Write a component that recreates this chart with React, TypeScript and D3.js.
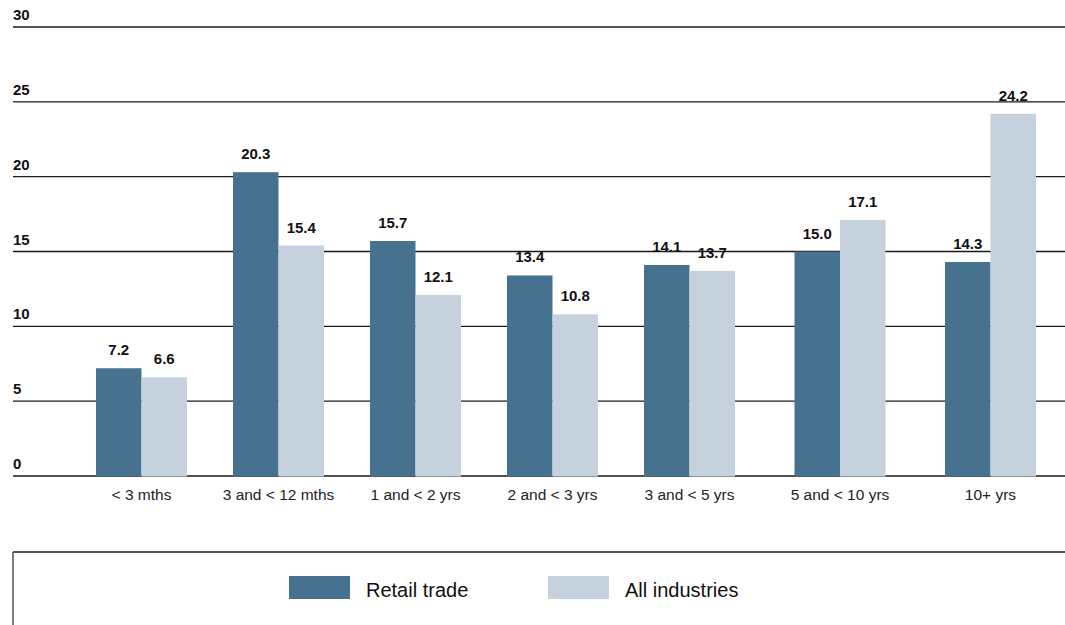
import React from "react";
import * as d3 from "d3";

// Duration categories and the share (%) in each, by series
const categories = [
  "< 3 mths",
  "3 and < 12 mths",
  "1 and < 2 yrs",
  "2 and < 3 yrs",
  "3 and < 5 yrs",
  "5 and < 10 yrs",
  "10+ yrs",
];
const seriesNames = ["Retail trade", "All industries"];
const retailTrade = [7.2, 20.3, 15.7, 13.4, 14.1, 15.0, 14.3];
const allIndustries = [6.6, 15.4, 12.1, 10.8, 13.7, 17.1, 24.2];
const yTicks = [0, 5, 10, 15, 20, 25, 30];

const COLORS = ["#47728f", "#c5d1dc"];
const FONT = "'Liberation Sans', Arial, Helvetica, sans-serif";

const W = 1065;
const H = 625;

export default function App() {
  const left = 13;
  const right = W;

  const y = d3.scaleLinear().domain([0, 30]).range([476, 27]);

  // Group placement: the last two groups sit a little wider apart
  const groupX = d3.scaleLinear().domain([0, 4, 6]).range([96, 644, 945]);
  const groupWidth = 91;
  const inner = d3.scaleBand<string>().domain(seriesNames).range([0, groupWidth]).padding(0);

  const values = [retailTrade, allIndustries];

  return (
    <svg
      width={W}
      height={H}
      style={{ position: "absolute", left: 0, top: 0, display: "block", background: "#fff" }}
      fontFamily={FONT}
    >
      {/* Gridlines and value-axis labels */}
      {yTicks.map((t) => (
        <g key={t}>
          <line
            x1={left}
            x2={right}
            y1={y(t)}
            y2={y(t)}
            stroke={t === 30 ? "#555" : "#1a1a1a"}
            strokeWidth={t === 30 ? 2 : 1.3}
          />
          <text x={left} y={y(t) - 7} fontSize={15} fontWeight="bold" fill="#111">
            {t}
          </text>
        </g>
      ))}

      {/* Bars */}
      {categories.map((c, i) => (
        <g key={c} transform={`translate(${groupX(i)},0)`}>
          {seriesNames.map((s, j) => {
            const v = values[j][i];
            const x = inner(s)!;
            return (
              <g key={s}>
                <rect
                  x={x}
                  y={y(v)}
                  width={inner.bandwidth()}
                  height={y(0) - y(v) + 0.5}
                  fill={COLORS[j]}
                />
                <text
                  x={x + inner.bandwidth() / 2}
                  y={y(v) - 13}
                  textAnchor="middle"
                  fontSize={15}
                  fontWeight="bold"
                  fill="#111"
                >
                  {v.toFixed(1)}
                </text>
              </g>
            );
          })}
          <text
            x={groupWidth / 2}
            y={500}
            textAnchor="middle"
            fontSize={15.5}
            fill="#222"
          >
            {c}
          </text>
        </g>
      ))}

      {/* Legend panel */}
      <line x1={left} x2={right} y1={552} y2={552} stroke="#555" strokeWidth={2} />
      <line x1={left} x2={left} y1={552} y2={H} stroke="#555" strokeWidth={1.5} />
      {seriesNames.map((s, j) => {
        const lx = 289 + j * 259;
        return (
          <g key={s}>
            <rect x={lx} y={576} width={61} height={23} fill={COLORS[j]} />
            <text x={lx + 77} y={597} fontSize={20} fill="#111">
              {s}
            </text>
          </g>
        );
      })}
    </svg>
  );
}
